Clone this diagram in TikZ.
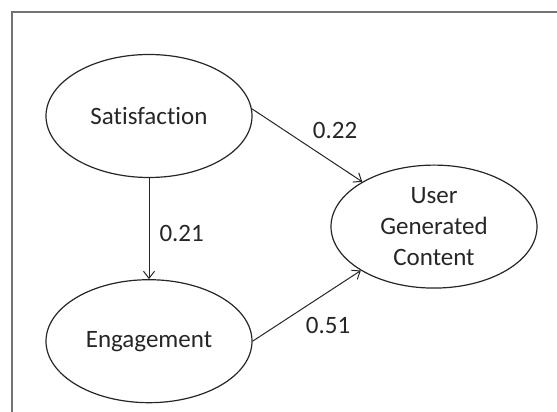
\documentclass[tikz,border=0pt]{standalone}
\usepackage{fontspec}
\setmainfont{Carlito}[Ligatures=NoCommon]
\usetikzlibrary{calc}
\usetikzlibrary{shapes.geometric,positioning,arrows.meta}

\begin{document}
\begin{tikzpicture}[x=1pt, y=1pt,
    construct/.style={ellipse, draw=black!85, line width=1.2pt, text=black!85,
      minimum width=206pt, minimum height=123pt, inner sep=0pt, align=center},
    effect/.style={->, draw=black!85, line width=1pt},
    weight/.style={inner sep=2pt, text=black!85},
    >={Straight Barb[length=7pt,width=11pt]},
  ]
  \fontsize{25}{31}\selectfont
  \useasboundingbox (0,0) rectangle (557,412);
  \draw[black!55, line width=1.5pt] (12,-20) rectangle (580,400);

  \node[construct] (sat) at (149,296) {Satisfaction};
  \node[construct, below=101pt of sat] (eng) {Engagement};
  \node[construct] (ugc) at ($(sat)!0.5!(eng)+(285,2)$) {User\\Generated\\Content};

  \draw[effect] (sat.4) -- node[weight, pos=0.53, above right, yshift=6pt] (w-sat-ugc) {0.22} (ugc.148);
  \draw[effect] (sat.south) -- node[weight, pos=0.545, right, xshift=8pt] (w-sat-eng) {0.21} (eng.north);
  \draw[effect] (eng.east) -- node[weight, pos=0.47, below right, yshift=-7pt] (w-eng-ugc) {0.51} (ugc.211);
\end{tikzpicture}
\end{document}
